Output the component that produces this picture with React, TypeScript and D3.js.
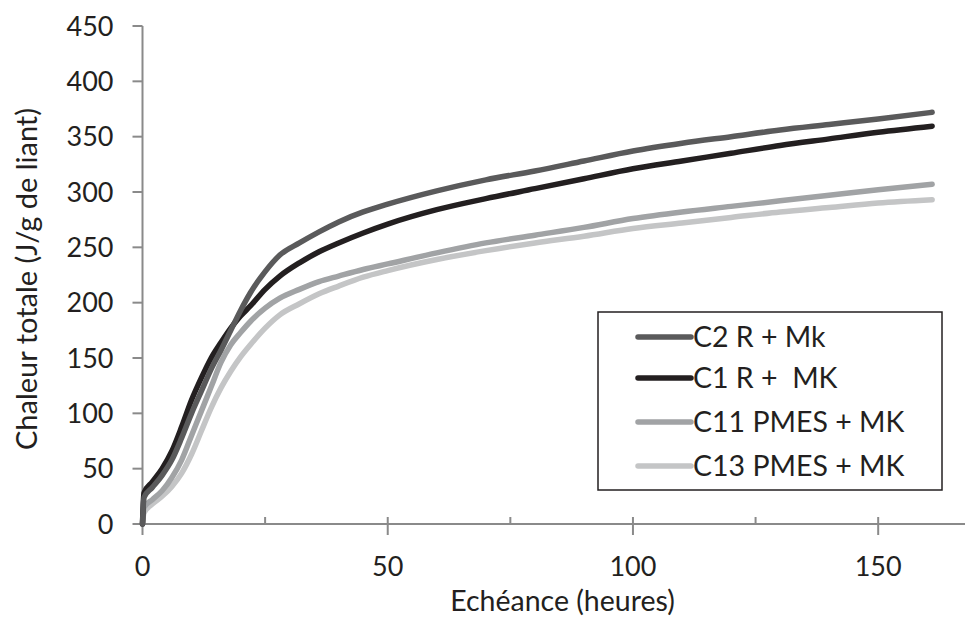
import React from "react";
import * as d3 from "d3";

const hours = [0, 0.3, 2, 4, 6, 8, 10, 12, 14, 16, 18, 20, 22, 25, 28, 32, 36, 40, 45, 50, 60, 70, 80, 90, 100, 110, 120, 130, 140, 150, 161];
const c2 = [0, 24, 33, 44, 58, 78, 100, 120, 140, 157, 175, 193, 209, 228, 243, 254, 264, 273, 282, 289, 301, 311, 319, 328, 337, 344, 350, 356, 361, 366, 372];
const c1 = [0, 28, 38, 50, 66, 88, 112, 132, 150, 164, 177, 188, 197, 212, 224, 236, 246, 254, 263, 271, 284, 294, 303, 312, 321, 328, 335, 342, 348, 354, 359.5];
const c11 = [0, 15, 22, 30, 42, 58, 80, 102, 124, 146, 162, 173, 183, 195, 204, 212, 219, 224, 230, 235, 245, 254, 261, 268, 276, 282, 287, 292, 297, 302, 307];
const c13 = [0, 10, 18, 25, 34, 46, 63, 84, 105, 123, 138, 151, 162, 177, 189, 199, 208, 215, 223, 229, 239, 247, 254, 260, 267, 272, 277, 282, 286, 290, 293];

const seriesNames = ["C2 R + Mk", "C1 R +  MK", "C11 PMES + MK", "C13 PMES + MK"];
const seriesValues = [c2, c1, c11, c13];
const seriesColors = ["#5a5a5b", "#231f20", "#a1a3a5", "#c4c5c6"];

const yTicks = [0, 50, 100, 150, 200, 250, 300, 350, 400, 450];
const xMajor = [0, 50, 100, 150];
const xMinor = [25, 75, 125];

const FONT = "Lato, 'Open Sans', sans-serif";
const TXT = "#231f20";
const AX = "#8a8a8a";

export default function App() {
  const x = d3.scaleLinear().domain([0, 167.7]).range([142.5, 965]);
  const y = d3.scaleLinear().domain([0, 450]).range([524, 26]);
  const line = d3
    .line<number>()
    .x((_, i) => x(hours[i]))
    .y((d) => y(d))
    .curve(d3.curveMonotoneX);

  const legX = 598;
  const legY = 312;
  const rows = [337, 378, 422, 466];

  return (
    <svg
      width={965}
      height={619}
      style={{ position: "fixed", left: 0, top: 0, background: "#fff" }}
      fontFamily={FONT}
    >
      <rect x={0} y={0} width={965} height={619} fill="#fff" />
      {/* axes */}
      <line x1={x(0)} x2={x(0)} y1={y(450)} y2={y(0)} stroke={AX} strokeWidth={2} />
      <line x1={x(0)} x2={965} y1={y(0)} y2={y(0)} stroke={AX} strokeWidth={2} />
      {yTicks.map((t) => (
        <g key={"y" + t}>
          <line x1={x(0) - 10} x2={x(0)} y1={y(t)} y2={y(t)} stroke={AX} strokeWidth={2} />
          <text x={113.5} y={y(t)} dy="0.36em" textAnchor="end" fontSize={27} fill={TXT}>
            {t}
          </text>
        </g>
      ))}
      {xMajor.map((t) => (
        <g key={"x" + t}>
          <line x1={x(t)} x2={x(t)} y1={y(0) - 7} y2={y(0) + 11} stroke={AX} strokeWidth={2} />
          <text x={x(t)} y={576} textAnchor="middle" fontSize={27} fill={TXT}>
            {t}
          </text>
        </g>
      ))}
      {xMinor.map((t) => (
        <line key={"m" + t} x1={x(t)} x2={x(t)} y1={y(0) - 7} y2={y(0)} stroke={AX} strokeWidth={2} />
      ))}
      <text x={562.5} y={611} textAnchor="middle" fontSize={28.5} fill={TXT}>
        Echéance (heures)
      </text>
      <text
        transform={`translate(27,279) rotate(-90)`}
        dy="0.36em"
        textAnchor="middle"
        fontSize={29}
        fill={TXT}
      >
        Chaleur totale (J/g de liant)
      </text>
      {/* series, drawn light first */}
      {[3, 2, 1, 0].map((i) => (
        <path
          key={seriesNames[i]}
          d={line(seriesValues[i]) || ""}
          fill="none"
          stroke={seriesColors[i]}
          strokeWidth={5.5}
          strokeLinecap="round"
          strokeLinejoin="round"
        />
      ))}
      {/* legend */}
      <rect x={legX} y={legY} width={344} height={178} fill="#fff" stroke={TXT} strokeWidth={1.5} />
      {seriesNames.map((n, i) => (
        <g key={"l" + n}>
          <line x1={638} x2={691} y1={rows[i]} y2={rows[i]} stroke={seriesColors[i]} strokeWidth={5.5} strokeLinecap="round" />
          <text x={693} y={rows[i]} dy="0.36em" fontSize={28.5} fill={TXT} xmlSpace="preserve" style={{ whiteSpace: "pre" }}>
            {n}
          </text>
        </g>
      ))}
    </svg>
  );
}
